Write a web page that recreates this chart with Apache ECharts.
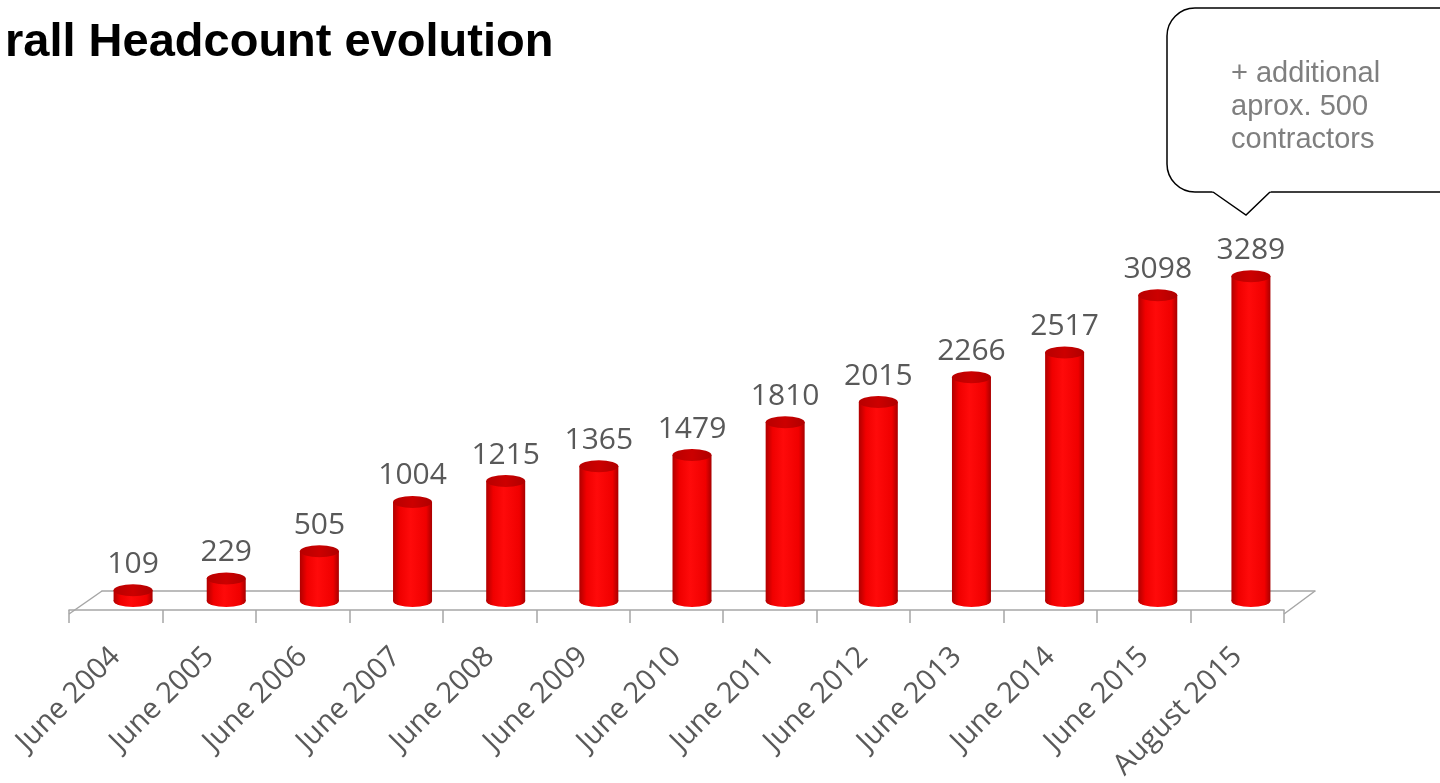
<!DOCTYPE html>
<html>
<head>
<meta charset="utf-8">
<script src="https://cdn.jsdelivr.net/npm/echarts@6/dist/echarts.min.js"></script>
<style>
html, body { margin: 0; padding: 0; background: #fff; }
#chart { width: 1440px; height: 783px; }
</style>
</head>
<body>
<div id="chart"></div>
<script>
// data
const categories = ['June 2004', 'June 2005', 'June 2006', 'June 2007', 'June 2008', 'June 2009',
    'June 2010', 'June 2011', 'June 2012', 'June 2013', 'June 2014', 'June 2015', 'August 2015'];
const headcount = [109, 229, 505, 1004, 1215, 1365, 1479, 1810, 2015, 2266, 2517, 3098, 3289];
const noteLines = ['+ additional', 'aprox. 500', 'contractors'];

const gray = '#a6a6a6';
const bodyColor = new echarts.graphic.LinearGradient(0, 0, 1, 0, [
    { offset: 0, color: '#b00000' },
    { offset: 0.18, color: '#f00000' },
    { offset: 0.45, color: '#ff0a0a' },
    { offset: 0.85, color: '#f00000' },
    { offset: 1, color: '#a80000' }
]);
const capColor = new echarts.graphic.LinearGradient(0, 0, 1, 0, [
    { offset: 0, color: '#b80000' },
    { offset: 0.5, color: '#cc0000' },
    { offset: 1, color: '#b00000' }
]);

const chart = echarts.init(document.getElementById('chart'));
chart.setOption({
    animation: false,
    title: {
        text: 'rall Headcount evolution',
        left: 0,
        top: 15,
        textStyle: { fontFamily: 'Liberation Sans', fontWeight: 'bold', fontSize: 47, color: '#000' }
    },
    grid: [
        // mid plane, where the cylinders stand
        { left: 86.5, right: 142.5, top: 255.5, bottom: 182 },
        // front edge of the floor
        { left: 69, right: 156, top: 300, bottom: 169 },
        // back edge of the floor
        { left: 102, right: 125, top: 300, bottom: 192 }
    ],
    xAxis: [
        {
            gridIndex: 0, type: 'category', data: categories,
            axisLine: { show: false }, axisTick: { show: false }, axisLabel: { show: false }
        },
        {
            gridIndex: 1, type: 'category', data: categories,
            axisLine: { lineStyle: { color: gray, width: 1.5 } },
            axisTick: { show: true, length: 13, lineStyle: { color: gray, width: 1.5 } },
            axisLabel: { rotate: 45, margin: 42, interval: 0, fontFamily: 'Open Sans', fontSize: 29, color: '#595959' }
        },
        {
            gridIndex: 2, type: 'category', data: categories,
            axisLine: { lineStyle: { color: gray, width: 1.5 } },
            axisTick: { show: false }, axisLabel: { show: false }
        }
    ],
    yAxis: [
        { gridIndex: 0, type: 'value', min: 0, max: 3500, show: false, splitLine: { show: false } },
        { gridIndex: 1, type: 'value', show: false, splitLine: { show: false } },
        { gridIndex: 2, type: 'value', show: false, splitLine: { show: false } }
    ],
    series: [
        {
            type: 'bar',
            data: headcount,
            barWidth: 39,
            itemStyle: { color: bodyColor },
            label: {
                show: true, position: 'top', distance: 11,
                fontFamily: 'Open Sans', fontSize: 30, color: '#595959'
            },
            z: 2
        },
        {
            type: 'pictorialBar',
            data: headcount,
            symbol: 'circle',
            symbolSize: [39, 12],
            symbolOffset: [0, '50%'],
            symbolPosition: 'start',
            itemStyle: { color: bodyColor },
            z: 1
        },
        {
            type: 'pictorialBar',
            data: headcount,
            symbol: 'circle',
            symbolSize: [39, 12],
            symbolOffset: [0, '-50%'],
            symbolPosition: 'end',
            itemStyle: { color: capColor },
            z: 3
        }
    ],
    graphic: [
        // floor side edges
        { type: 'line', shape: { x1: 69, y1: 614, x2: 102, y2: 591 }, style: { stroke: gray, lineWidth: 1.5 } },
        { type: 'line', shape: { x1: 1284, y1: 614, x2: 1315, y2: 591 }, style: { stroke: gray, lineWidth: 1.5 } },
        // callout box
        {
            type: 'rect',
            shape: { x: 1167, y: 8, width: 320, height: 184, r: 28 },
            style: { fill: '#fff', stroke: '#000', lineWidth: 1.5 }
        },
        {
            type: 'polygon',
            shape: { points: [[1212, 191], [1246, 215], [1271, 191]] },
            style: { fill: '#fff', stroke: null }
        },
        {
            type: 'polyline',
            shape: { points: [[1213, 192], [1246, 215], [1270, 192]] },
            style: { fill: null, stroke: '#000', lineWidth: 1.5 }
        },
        {
            type: 'text',
            x: 1231,
            y: 57,
            style: {
                text: noteLines.join('\n'),
                font: '29px "Liberation Sans"',
                lineHeight: 33,
                fill: '#7f7f7f'
            }
        }
    ]
});
</script>
</body>
</html>
